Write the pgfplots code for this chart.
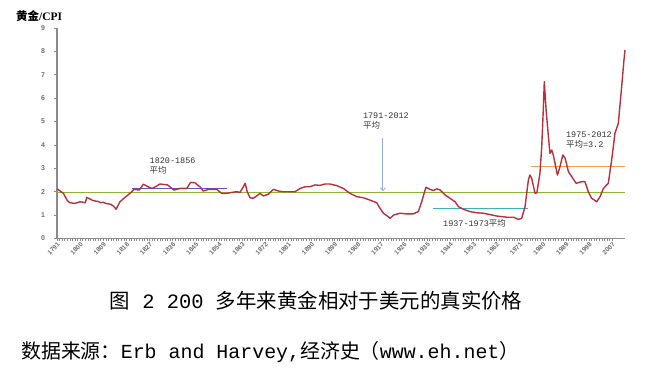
\documentclass[border=0pt]{standalone}
\usepackage{pgfplots}
\pgfplotsset{compat=1.18}
\usepackage{fontspec}
\setmainfont{Liberation Sans}
\newfontfamily\cjk{Noto Sans CJK SC}
\newfontfamily\mono{Liberation Mono}
\newfontfamily\serifb{Liberation Serif}
\usetikzlibrary{arrows.meta}
\definecolor{goldred}{HTML}{B8303A}
\definecolor{avggreen}{HTML}{8DB33A}
\definecolor{avgblue}{HTML}{5858D0}
\definecolor{avgteal}{HTML}{3CB4B4}
\definecolor{avgorange}{HTML}{F2A040}
\definecolor{arrowblue}{HTML}{8FB0D8}
\definecolor{axgray}{HTML}{8C8C8C}
\definecolor{labgray}{HTML}{6E6E6E}
\begin{document}
\begin{tikzpicture}
\path[use as bounding box] (0,0) rectangle (648bp,370bp);
\begin{axis}[
  at={(57bp,131.5bp)}, anchor=south west,
  scale only axis, width=568bp, height=210.6bp,
  xmin=1791, xmax=2012, ymin=0, ymax=9,
  axis x line*=bottom, axis y line*=left,
  axis line style={draw=axgray, line width=1.2bp, -},
  xtick={1791,1800,...,2007},
  minor x tick num=8,
  ytick={0,1,...,9},
  tick align=outside,
  major tick length=2.5bp, minor tick length=2.5bp,
  every tick/.style={draw=axgray, line width=0.5bp},
  /pgf/number format/assume math mode=true,
  /pgf/number format/1000 sep={},
  xticklabel style={rotate=45, anchor=north east, inner sep=0.5pt, font=\fontsize{6.5}{7}\selectfont\bfseries, text=labgray},
  yticklabel style={font=\fontsize{7}{8}\selectfont\bfseries, text=labgray, xshift=-6bp},
  clip=false,
]
% long-run average 1791-2012
\addplot[avggreen, line width=1.3bp] coordinates {(1791,1.98) (2012,1.98)};
% 1820-1856 average
\addplot[avgblue, line width=1.2bp] coordinates {(1820,2.14) (1857,2.14)};
% 1937-1973 average
\addplot[avgteal, line width=1.2bp] coordinates {(1937.4,1.29) (1974.4,1.29)};
% 1975-2012 average
\addplot[avgorange, line width=1.2bp] coordinates {(1975.4,3.07) (2012,3.07)};
% gold / CPI
\addplot[goldred, line width=1.4bp, line join=round] coordinates {
(1791,2.12) (1792,2.05) (1793.5,1.93) (1795,1.62) (1796,1.53) (1798,1.50)
(1800,1.57) (1801,1.55) (1802,1.53) (1802.6,1.76) (1804,1.68) (1805,1.62)
(1807,1.58) (1808,1.53) (1809,1.55) (1810,1.50) (1812,1.46) (1813,1.38)
(1814,1.25) (1815.5,1.57) (1817.5,1.76) (1819.4,1.93) (1821,2.10) (1823,2.07)
(1824.6,2.32) (1826.5,2.21) (1828,2.14) (1829.8,2.24) (1831,2.33) (1834,2.29)
(1836.5,2.07) (1839,2.14) (1841.5,2.14) (1843,2.40) (1844.7,2.38) (1846.6,2.21)
(1847.9,2.03) (1849.9,2.10) (1853.1,2.10) (1855.1,1.93) (1857,1.93) (1859,1.97)
(1860.9,2.00) (1862.2,1.97) (1863.5,2.21) (1864.2,2.36) (1865,2.00) (1866.1,1.74)
(1867.4,1.72) (1868.7,1.82) (1870,1.93) (1871.3,1.82) (1873.2,1.89) (1875.2,2.10)
(1877.1,2.03) (1879,2.00) (1881.7,2.00) (1883.6,2.00) (1885.6,2.14) (1887.5,2.21)
(1889.4,2.21) (1891.4,2.29) (1893.3,2.27) (1895.3,2.33) (1897.2,2.33) (1899.8,2.26)
(1902.4,2.14) (1905,1.93) (1907.6,1.79) (1910.2,1.74) (1912.8,1.64) (1915.4,1.53)
(1916.7,1.29) (1918,1.08) (1919.9,0.93) (1920.6,0.86) (1921.9,1.00) (1924.5,1.08)
(1927.1,1.05) (1929.6,1.05) (1931.6,1.15) (1932.9,1.57) (1934.2,2.07) (1934.6,2.19)
(1936.1,2.10) (1937.5,2.05) (1938.7,2.12) (1940,2.08) (1942,1.86) (1943.9,1.72)
(1945.9,1.57) (1947.2,1.36) (1949.1,1.25) (1951.7,1.15) (1954.3,1.10) (1956.9,1.08)
(1962.1,0.96) (1966,0.91) (1968.6,0.91) (1970.5,0.82) (1971.8,0.86) (1973.1,1.36)
(1974.4,2.50) (1975,2.71) (1975.7,2.57) (1977,1.93) (1977.7,1.95) (1978.3,2.36)
(1978.9,2.79) (1979.6,3.92) (1980.2,5.49) (1980.6,6.70) (1981.3,5.49) (1982.2,4.35)
(1982.8,3.64) (1983.5,3.78) (1984.1,3.57) (1985.7,2.71) (1986.7,3.07) (1987.8,3.57)
(1988.7,3.43) (1990,2.85) (1991.3,2.64) (1993,2.36) (1995.2,2.43) (1996.4,2.43)
(1997.7,2.00) (1999,1.72) (2001,1.57) (2002.3,1.79) (2003.6,2.14) (2005.5,2.36)
(2006.8,3.35) (2008.1,4.50) (2009.4,4.92) (2010.7,6.49) (2011.6,7.63) (2012,8.06)
};
% annotations
\node[anchor=north west, align=left, inner sep=0pt, font=\fontsize{8.5}{9.5}\selectfont, text=black!80]
  at (axis cs:1827,3.45) {{\mono 1820-1856}\\{\cjk 平均}};
\node[anchor=north west, align=left, inner sep=0pt, font=\fontsize{8.5}{9.5}\selectfont, text=black!80]
  at (axis cs:1910,5.37) {{\mono 1791-2012}\\{\cjk 平均}};
\draw[-{Straight Barb[length=3bp,width=5bp]}, draw=arrowblue, line width=0.8bp]
  (axis cs:1917.8,4.3) -- (axis cs:1917.8,2.02);
\node[anchor=west, inner sep=0pt, font=\fontsize{8.5}{9.5}\selectfont, text=black!80]
  at (axis cs:1941.2,0.66) {{\mono 1937-1973}{\cjk 平均}};
\node[anchor=north west, align=left, inner sep=0pt, font=\fontsize{8.5}{9.5}\selectfont, text=black!80]
  at (axis cs:1989,4.56) {{\mono 1975-2012}\\{\cjk 平均}{\mono =3.2}};
\end{axis}
% y axis title
\node[anchor=west, inner sep=0pt] at (16bp,354bp) {\fontsize{11.5}{12}\selectfont{\cjk\bfseries 黄金}{\serifb\bfseries /CPI}};
% caption
\node[anchor=center, inner sep=0pt] at (316bp,69bp) {\fontsize{20.5}{22}\selectfont{\cjk 图}{\mono\ 2 200\ }{\cjk 多年来黄金相对于美元的真实价格}};
% source
\node[anchor=west, inner sep=0pt] at (21bp,18bp) {\fontsize{20}{22}\selectfont{\cjk 数据来源：}{\mono Erb and Harvey,}{\cjk 经济史（}{\mono www.eh.net}{\cjk ）}};
\end{tikzpicture}
\end{document}
